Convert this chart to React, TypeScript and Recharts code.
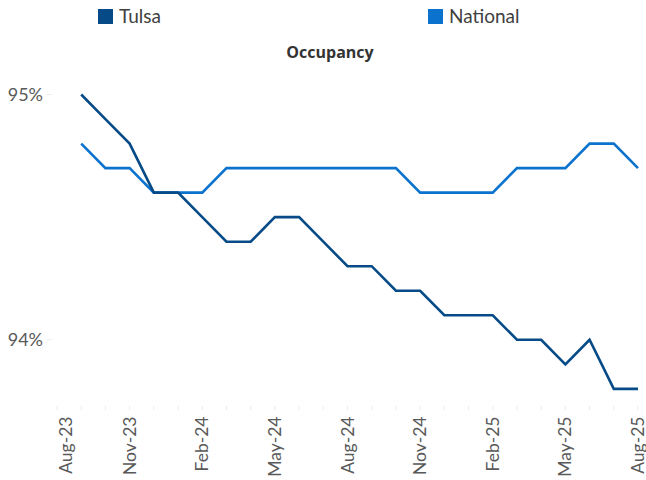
import React from 'react';
import { LineChart, Line, XAxis, YAxis } from 'recharts';

const months = [
  'Aug-23', 'Sep-23', 'Oct-23', 'Nov-23', 'Dec-23', 'Jan-24', 'Feb-24', 'Mar-24', 'Apr-24',
  'May-24', 'Jun-24', 'Jul-24', 'Aug-24', 'Sep-24', 'Oct-24', 'Nov-24', 'Dec-24', 'Jan-25',
  'Feb-25', 'Mar-25', 'Apr-25', 'May-25', 'Jun-25', 'Jul-25', 'Aug-25',
];

const tulsa: (number | null)[] = [
  null, 95.0, 94.9, 94.8, 94.6, 94.6, 94.5, 94.4, 94.4, 94.5, 94.5, 94.4, 94.3,
  94.3, 94.2, 94.2, 94.1, 94.1, 94.1, 94.0, 94.0, 93.9, 94.0, 93.8, 93.8,
];

const national: (number | null)[] = [
  null, 94.8, 94.7, 94.7, 94.6, 94.6, 94.6, 94.7, 94.7, 94.7, 94.7, 94.7, 94.7,
  94.7, 94.7, 94.6, 94.6, 94.6, 94.6, 94.7, 94.7, 94.7, 94.8, 94.8, 94.7,
];

const labelledMonths = ['Aug-23', 'Nov-23', 'Feb-24', 'May-24', 'Aug-24', 'Nov-24', 'Feb-25', 'May-25', 'Aug-25'];
const yTicks = [94, 95];

const TULSA_COLOR = '#064B87';
const NATIONAL_COLOR = '#0B72CD';

const data = months.map((m, i) => ({ month: m, Tulsa: tulsa[i], National: national[i] }));

const XTick = (props: any) => {
  const { x, y, payload, index } = props;
  const v = payload.value as string;
  if (!labelledMonths.includes(v)) return null;
  const px = x + 6 + (index === 0 ? 9 : 0);
  const py = y + 4.5;
  return (
    <text
      x={px}
      y={py}
      transform={`rotate(-90, ${px}, ${py})`}
      textAnchor="end"
      fill="#595959"
      style={{ fontFamily: 'Lato', fontSize: 17.5 }}
    >
      {v}
    </text>
  );
};

export default function App() {
  return (
    <div style={{ position: 'absolute', left: 0, top: 0, width: 646, height: 480, background: '#fff' }}>
      <div style={{ position: 'absolute', left: 98, top: 9, width: 15, height: 15, background: TULSA_COLOR }} />
      <div style={{ position: 'absolute', left: 119, top: 5, fontFamily: 'Lato', fontSize: 19, lineHeight: 1.2, color: '#404040' }}>Tulsa</div>
      <div style={{ position: 'absolute', left: 428, top: 9, width: 15, height: 15, background: NATIONAL_COLOR }} />
      <div style={{ position: 'absolute', left: 449, top: 5, fontFamily: 'Lato', fontSize: 19, lineHeight: 1.2, color: '#404040' }}>National</div>
      <div style={{ position: 'absolute', left: 230, top: 42, width: 200, textAlign: 'center', fontFamily: 'Open Sans', fontWeight: 700, fontSize: 16, lineHeight: 1.36, color: '#333333' }}>Occupancy</div>
      <LineChart width={646} height={480} data={data} margin={{ top: 70, right: 8, bottom: 0, left: 0 }} style={{ position: 'absolute', left: 0, top: 0 }}>
        <XAxis
          dataKey="month"
          interval={0}
          height={74}
          axisLine={false}
          tickLine={{ stroke: '#ececec' }}
          tickSize={4}
          padding={{ left: 5, right: 0 }}
          tick={<XTick />}
        />
        <YAxis
          width={52}
          domain={[93.73, 95.1]}
          ticks={yTicks}
          allowDataOverflow
          axisLine={false}
          tickLine={{ stroke: '#ececec' }}
          tickSize={5}
          tickMargin={4}
          tickFormatter={(v: number) => `${v}%`}
          tick={{ fill: '#595959', fontFamily: 'Lato', fontSize: 18 }}
        />
        <Line type="linear" dataKey="National" stroke={NATIONAL_COLOR} strokeWidth={2.6} dot={false} isAnimationActive={false} />
        <Line type="linear" dataKey="Tulsa" stroke={TULSA_COLOR} strokeWidth={2.6} dot={false} isAnimationActive={false} />
      </LineChart>
    </div>
  );
}
